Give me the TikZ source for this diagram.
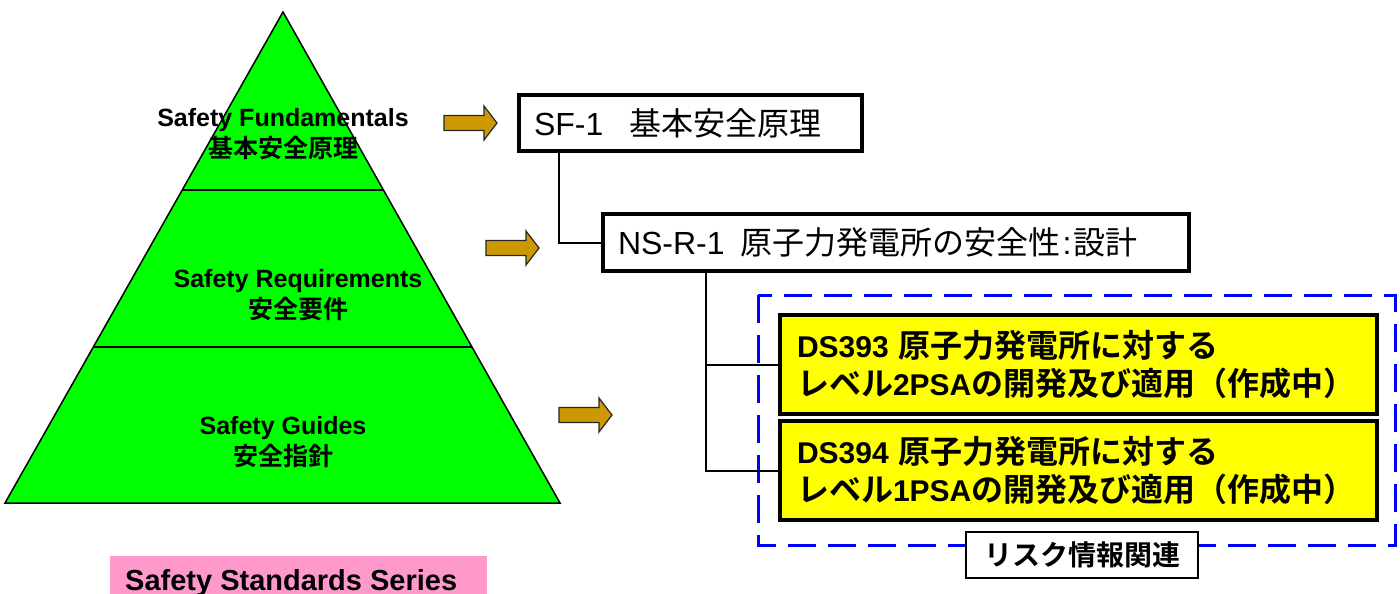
\documentclass[tikz,border=0pt]{standalone}
\usepackage{fontspec}
\setmainfont{Liberation Sans}
\newfontfamily\cjk{Noto Sans CJK JP}[BoldFont={Noto Sans CJK JP Bold}]
\usetikzlibrary{calc}
\definecolor{trigreen}{HTML}{00FF00}
\definecolor{goldfill}{HTML}{CC9900}
\definecolor{dsyellow}{HTML}{FFFF00}
\definecolor{pinkbg}{HTML}{FF99CC}
\definecolor{dashblue}{HTML}{0000FF}
\begin{document}
\begin{tikzpicture}[x=1pt,y=-1pt,
  trifill/.style={fill=trigreen, draw=black, line width=1.5pt, line join=miter},
  divider/.style={draw=black, line width=2pt},
  trilabel/.style={align=center, inner sep=0pt, font=\bfseries\fontsize{25}{31}\selectfont},
  arrowfill/.style={fill=goldfill, draw=black!85, line width=1.2pt, line join=miter},
  blockarrow/.pic={\draw[arrowfill] (0,-7.5) -- (40,-7.5) -- (40,-17) -- (53,0) -- (40,17) -- (40,7.5) -- (0,7.5) -- cycle;},
  topbox/.style={draw=black, line width=4pt, fill=white, inner xsep=15pt, inner ysep=0pt, align=left, font=\fontsize{32}{38}\selectfont},
  dsbox/.style={draw=black, line width=4pt, fill=dsyellow, inner xsep=17pt, inner ysep=0pt, align=left, font=\bfseries\fontsize{30}{38}\selectfont},
  conn/.style={draw=black, line width=2pt},
  riskframe/.style={draw=dashblue, line width=3pt, dash pattern=on 28pt off 12pt},
  labelbox/.style={draw=black, line width=2pt, fill=white, inner sep=0pt, font=\bfseries\fontsize{28}{32}\selectfont},
  pinkbox/.style={fill=pinkbg, draw=none, inner sep=0pt},
]
\useasboundingbox (0,0) rectangle (1400,594);

% pyramid
\coordinate (apex) at (283,12);
\coordinate (bl) at (5,503);
\coordinate (br) at (560,503);
\draw[trifill] (apex) -- (br) -- (bl) -- cycle;
\draw[divider] (182.2,190) -- (383.4,190);
\draw[divider] (93.3,347) -- (472,347);

\node (fund) [trilabel] at (283,134) {Safety Fundamentals\\{\cjk 基本安全原理}};
\node (req)  [trilabel] at (298,295) {Safety Requirements\\{\cjk 安全要件}};
\node (guide)[trilabel] at (283,442) {Safety Guides\\{\cjk 安全指針}};

% arrows
\pic at (444,123) {blockarrow};
\pic at (486,248) {blockarrow};
\pic at (559,415) {blockarrow};

% risk frame
\draw[riskframe] (758,295) rectangle (1395,545);

% boxes
\node (sf) [topbox, anchor=north west, minimum height=56pt, text width=313pt] at (517,93)
  {SF-1\hspace{26pt}{\cjk 基本安全原理}};
\node (ns) [topbox, anchor=north west, minimum height=57pt, text width=556pt] at (601,212)
  {NS-R-1\hspace{16pt}{\cjk 原子力発電所の安全性}\hspace{2pt}:\hspace{2pt}{\cjk 設計}};
\node (ds393) [dsbox, anchor=north west, minimum height=99pt, text width=563pt] at (778,313)
  {DS393\hspace{10pt}{\fontsize{32}{38}\selectfont\cjk 原子力発電所に対する}\\
   {\fontsize{32}{38}\selectfont\cjk レベル}2PSA{\fontsize{32}{38}\selectfont\cjk の開発及び適用（作成中）}};
\node (ds394) [dsbox, anchor=north west, minimum height=99pt, text width=563pt] at (778,419)
  {DS394\hspace{10pt}{\fontsize{32}{38}\selectfont\cjk 原子力発電所に対する}\\
   {\fontsize{32}{38}\selectfont\cjk レベル}1PSA{\fontsize{32}{38}\selectfont\cjk の開発及び適用（作成中）}};

\node (risk) [labelbox, minimum width=232pt, minimum height=46pt] at (1082,555) {\cjk リスク情報関連};

% connectors
\draw[conn] ([xshift=42pt]sf.south west) |- (ns.west);
\draw[conn] ([xshift=105pt]ns.south west) |- (ds393.west);
\draw[conn] ([xshift=105pt]ns.south west) |- (ds394.west);

% series label
\node (series) [pinkbox, anchor=north west, minimum width=377pt, minimum height=50pt] at (110,556) {};
\node (seriestxt) [anchor=base west, inner sep=0pt, font=\bfseries\fontsize{29}{34}\selectfont] at (125,590) {Safety Standards Series};
\end{tikzpicture}
\end{document}
